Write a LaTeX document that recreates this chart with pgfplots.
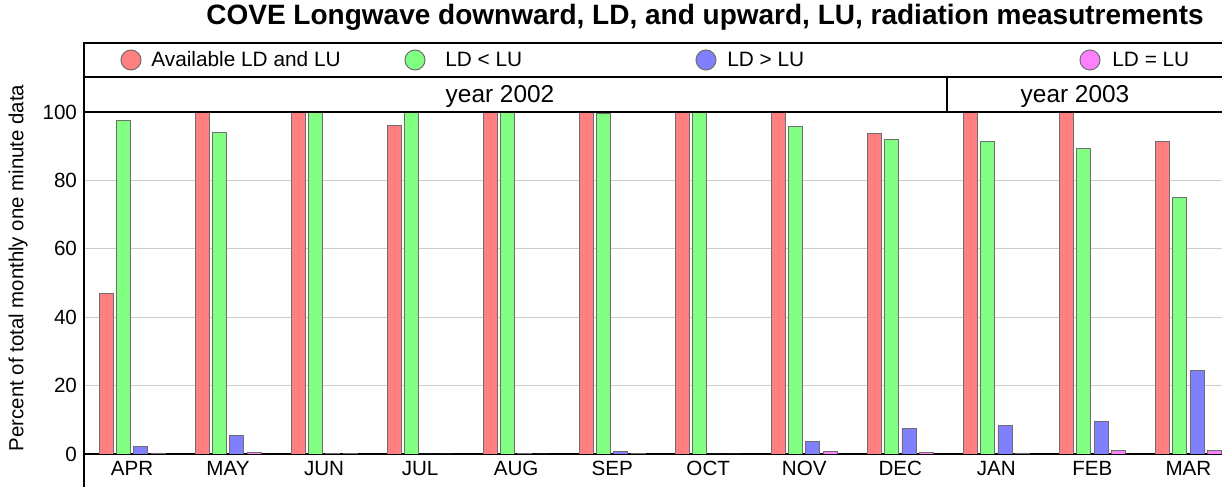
\documentclass[border=0pt]{standalone}
\usepackage{pgfplots}
\pgfplotsset{compat=1.18}
\usepackage{fontspec}
\setmainfont{Liberation Sans}
\definecolor{cred}{RGB}{255,128,128}
\definecolor{cgreen}{RGB}{128,255,128}
\definecolor{cblue}{RGB}{128,128,255}
\definecolor{cpink}{RGB}{255,128,255}
\definecolor{cedge}{RGB}{110,110,110}
\begin{document}
\begin{tikzpicture}
\begin{axis}[name=ax, at={(0,0)}, anchor=south west, scale only axis,
  width=569pt, height=171pt,
  ybar, bar width=7pt,
  xmin=-0.5, xmax=11.35, ymin=0, ymax=100,
  xtick={0,...,11},
  xticklabels={APR,MAY,JUN,JUL,AUG,SEP,OCT,NOV,DEC,JAN,FEB,MAR},
  ytick={0,20,40,60,80,100},
  ymajorgrids, grid style={gray!40, line width=0.6pt},
  major tick length=0pt,
  axis x line*=bottom, axis y line*=left,
  axis line style={line width=0.75pt, black},
  tick label style={font=\fontsize{10.3}{12}\selectfont},
  /pgf/number format/assume math mode=true,
  every axis plot/.append style={draw=cedge, line width=0.45pt},
]
\addplot[fill=cred, bar shift=-13pt] coordinates {(0,47) (1,100) (2,100) (3,96) (4,100) (5,100) (6,100) (7,100) (8,93.6) (9,100) (10,100) (11,91.3)};
\addplot[fill=cgreen, bar shift=-4.33pt] coordinates {(0,97.5) (1,94.1) (2,100) (3,100) (4,100) (5,99.5) (6,100) (7,95.7) (8,92) (9,91.3) (10,89.4) (11,75)};
\addplot[fill=cblue, bar shift=4.33pt] coordinates {(0,2.1) (1,5.4) (2,0.1) (3,0) (4,0.2) (5,0.6) (6,0) (7,3.7) (8,7.6) (9,8.3) (10,9.6) (11,24.4)};
\addplot[fill=cpink, bar shift=13pt] coordinates {(0,0.3) (1,0.4) (2,0.1) (3,0) (4,0) (5,0.2) (6,0) (7,0.8) (8,0.4) (9,0.3) (10,1.0) (11,0.9)};
\end{axis}
% frame
\draw[line width=0.75pt] (0pt,-16.5pt) -- (0pt,205.5pt) -- (569pt,205.5pt);
\draw[line width=0.75pt] (0pt,188.5pt) -- (569pt,188.5pt);
\draw[line width=0.75pt] (0pt,171pt) -- (569pt,171pt);
\draw[line width=0.75pt] (431.5pt,171pt) -- (431.5pt,188.5pt);
% title
\node[anchor=base, inner sep=0pt, font=\bfseries\fontsize{14}{16}\selectfont] at (310.5pt,214.5pt) {COVE Longwave downward, LD, and upward, LU, radiation measutrements};
% legend
\filldraw[fill=cred, draw=cedge, line width=0.5pt] (23.5pt,197pt) circle (5pt);
\filldraw[fill=cgreen, draw=cedge, line width=0.5pt] (165.5pt,197pt) circle (5pt);
\filldraw[fill=cblue, draw=cedge, line width=0.5pt] (311pt,197pt) circle (5pt);
\filldraw[fill=cpink, draw=cedge, line width=0.5pt] (503pt,197pt) circle (5pt);
\begin{scope}[every node/.style={anchor=base west, inner sep=0pt, font=\fontsize{10.4}{12}\selectfont}]
\node at (33.5pt,193.5pt) {Available LD and LU};
\node at (180.5pt,193.5pt) {LD < LU};
\node at (321.5pt,193.5pt) {LD > LU};
\node at (514pt,193.5pt) {LD = LU};
\end{scope}
% years
\node[anchor=base, inner sep=0pt, font=\fontsize{12.2}{14}\selectfont] at (208pt,175.5pt) {year 2002};
\node[anchor=base, inner sep=0pt, font=\fontsize{12.2}{14}\selectfont] at (495.5pt,175.5pt) {year 2003};
% y label
\node[rotate=90, inner sep=0pt, font=\fontsize{10.2}{12}\selectfont] at (-33pt,93pt) {Percent of total monthly one minute data};
\pgfresetboundingbox
\path (-42pt,-16.5pt) rectangle (569pt,227pt);
\end{tikzpicture}
\end{document}
